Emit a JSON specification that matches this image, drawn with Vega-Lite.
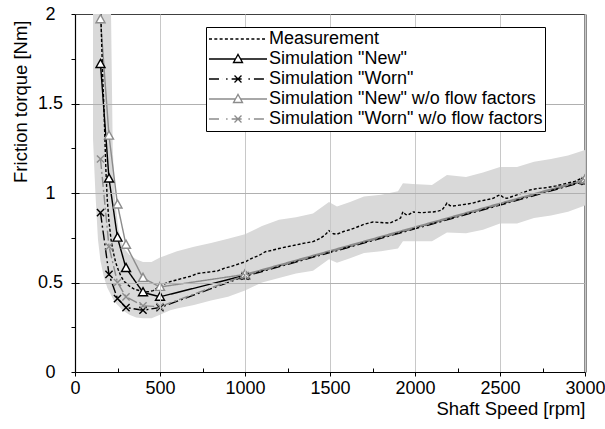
{
  "$schema": "https://vega.github.io/schema/vega-lite/v6.json",
  "width": 510,
  "height": 358,
  "autosize": "none",
  "padding": {"left": 75, "top": 14, "right": 20, "bottom": 57},
  "background": "white",
  "config": {
    "font": "Liberation Sans",
    "view": {"stroke": null},
    "axis": {"labelFont": "Liberation Sans", "titleFont": "Liberation Sans", "labelFontSize": 18, "titleFontSize": 18.5, "labelColor": "black", "titleColor": "black", "titleFontWeight": "normal", "domainColor": "black", "tickColor": "black", "labelFlush": false, "labelOverlap": false}
  },
  "datasets": {
    "band": [
      {"rpm": 106, "lo": 1.30, "hi": 2.0},
      {"rpm": 120, "lo": 1.00, "hi": 2.0},
      {"rpm": 135, "lo": 0.74, "hi": 2.0},
      {"rpm": 150, "lo": 0.62, "hi": 2.0},
      {"rpm": 170, "lo": 0.53, "hi": 2.0},
      {"rpm": 190, "lo": 0.47, "hi": 2.0},
      {"rpm": 212, "lo": 0.43, "hi": 2.0},
      {"rpm": 222, "lo": 0.41, "hi": 1.25},
      {"rpm": 235, "lo": 0.39, "hi": 0.97},
      {"rpm": 255, "lo": 0.37, "hi": 0.80},
      {"rpm": 280, "lo": 0.345, "hi": 0.70},
      {"rpm": 320, "lo": 0.32, "hi": 0.655},
      {"rpm": 360, "lo": 0.305, "hi": 0.63},
      {"rpm": 400, "lo": 0.30, "hi": 0.615},
      {"rpm": 450, "lo": 0.30, "hi": 0.615},
      {"rpm": 500, "lo": 0.32, "hi": 0.64},
      {"rpm": 560, "lo": 0.345, "hi": 0.66},
      {"rpm": 600, "lo": 0.355, "hi": 0.675},
      {"rpm": 700, "lo": 0.375, "hi": 0.70},
      {"rpm": 800, "lo": 0.40, "hi": 0.72},
      {"rpm": 900, "lo": 0.42, "hi": 0.745},
      {"rpm": 1000, "lo": 0.455, "hi": 0.77},
      {"rpm": 1100, "lo": 0.50, "hi": 0.815},
      {"rpm": 1200, "lo": 0.525, "hi": 0.85},
      {"rpm": 1300, "lo": 0.55, "hi": 0.865},
      {"rpm": 1400, "lo": 0.565, "hi": 0.885},
      {"rpm": 1494, "lo": 0.63, "hi": 0.95},
      {"rpm": 1541, "lo": 0.61, "hi": 0.925},
      {"rpm": 1618, "lo": 0.635, "hi": 0.95},
      {"rpm": 1700, "lo": 0.665, "hi": 0.98},
      {"rpm": 1800, "lo": 0.675, "hi": 0.99},
      {"rpm": 1900, "lo": 0.69, "hi": 1.01},
      {"rpm": 1929, "lo": 0.73, "hi": 1.055},
      {"rpm": 1988, "lo": 0.73, "hi": 1.05},
      {"rpm": 2100, "lo": 0.73, "hi": 1.045},
      {"rpm": 2188, "lo": 0.78, "hi": 1.10},
      {"rpm": 2300, "lo": 0.775, "hi": 1.09},
      {"rpm": 2400, "lo": 0.795, "hi": 1.115},
      {"rpm": 2500, "lo": 0.83, "hi": 1.145},
      {"rpm": 2600, "lo": 0.83, "hi": 1.145},
      {"rpm": 2700, "lo": 0.86, "hi": 1.175},
      {"rpm": 2800, "lo": 0.875, "hi": 1.19},
      {"rpm": 2900, "lo": 0.895, "hi": 1.21},
      {"rpm": 3000, "lo": 0.93, "hi": 1.24}
    ],
    "lines": [
      {"series": "Simulation \"New\"", "rpm": 150, "torque": 1.72},
      {"series": "Simulation \"New\"", "rpm": 200, "torque": 1.08},
      {"series": "Simulation \"New\"", "rpm": 250, "torque": 0.75},
      {"series": "Simulation \"New\"", "rpm": 300, "torque": 0.58},
      {"series": "Simulation \"New\"", "rpm": 400, "torque": 0.445},
      {"series": "Simulation \"New\"", "rpm": 500, "torque": 0.42},
      {"series": "Simulation \"New\"", "rpm": 1000, "torque": 0.54},
      {"series": "Simulation \"New\"", "rpm": 3000, "torque": 1.07},
      {"series": "Simulation \"Worn\"", "rpm": 150, "torque": 0.89},
      {"series": "Simulation \"Worn\"", "rpm": 200, "torque": 0.545},
      {"series": "Simulation \"Worn\"", "rpm": 250, "torque": 0.41},
      {"series": "Simulation \"Worn\"", "rpm": 300, "torque": 0.36},
      {"series": "Simulation \"Worn\"", "rpm": 400, "torque": 0.345},
      {"series": "Simulation \"Worn\"", "rpm": 500, "torque": 0.36},
      {"series": "Simulation \"Worn\"", "rpm": 1000, "torque": 0.535},
      {"series": "Simulation \"Worn\"", "rpm": 3000, "torque": 1.065},
      {"series": "Simulation \"New\" w/o flow factors", "rpm": 150, "torque": 1.97},
      {"series": "Simulation \"New\" w/o flow factors", "rpm": 200, "torque": 1.32},
      {"series": "Simulation \"New\" w/o flow factors", "rpm": 250, "torque": 0.935},
      {"series": "Simulation \"New\" w/o flow factors", "rpm": 300, "torque": 0.71},
      {"series": "Simulation \"New\" w/o flow factors", "rpm": 400, "torque": 0.525},
      {"series": "Simulation \"New\" w/o flow factors", "rpm": 500, "torque": 0.475},
      {"series": "Simulation \"New\" w/o flow factors", "rpm": 1000, "torque": 0.545},
      {"series": "Simulation \"New\" w/o flow factors", "rpm": 3000, "torque": 1.075},
      {"series": "Simulation \"Worn\" w/o flow factors", "rpm": 150, "torque": 1.19},
      {"series": "Simulation \"Worn\" w/o flow factors", "rpm": 200, "torque": 0.70},
      {"series": "Simulation \"Worn\" w/o flow factors", "rpm": 250, "torque": 0.50},
      {"series": "Simulation \"Worn\" w/o flow factors", "rpm": 300, "torque": 0.42},
      {"series": "Simulation \"Worn\" w/o flow factors", "rpm": 400, "torque": 0.37},
      {"series": "Simulation \"Worn\" w/o flow factors", "rpm": 500, "torque": 0.365},
      {"series": "Simulation \"Worn\" w/o flow factors", "rpm": 1000, "torque": 0.54},
      {"series": "Simulation \"Worn\" w/o flow factors", "rpm": 3000, "torque": 1.07},
      {"series": "Measurement", "rpm": 152, "torque": 2.0},
      {"series": "Measurement", "rpm": 158, "torque": 1.8},
      {"series": "Measurement", "rpm": 164, "torque": 1.62},
      {"series": "Measurement", "rpm": 170, "torque": 1.48},
      {"series": "Measurement", "rpm": 176, "torque": 1.3},
      {"series": "Measurement", "rpm": 182, "torque": 1.12},
      {"series": "Measurement", "rpm": 190, "torque": 0.96},
      {"series": "Measurement", "rpm": 200, "torque": 0.84},
      {"series": "Measurement", "rpm": 212, "torque": 0.74},
      {"series": "Measurement", "rpm": 225, "torque": 0.67},
      {"series": "Measurement", "rpm": 240, "torque": 0.61},
      {"series": "Measurement", "rpm": 255, "torque": 0.57},
      {"series": "Measurement", "rpm": 270, "torque": 0.535},
      {"series": "Measurement", "rpm": 290, "torque": 0.505},
      {"series": "Measurement", "rpm": 320, "torque": 0.48},
      {"series": "Measurement", "rpm": 350, "torque": 0.462},
      {"series": "Measurement", "rpm": 390, "torque": 0.452},
      {"series": "Measurement", "rpm": 430, "torque": 0.448},
      {"series": "Measurement", "rpm": 460, "torque": 0.455},
      {"series": "Measurement", "rpm": 490, "torque": 0.475},
      {"series": "Measurement", "rpm": 520, "torque": 0.49},
      {"series": "Measurement", "rpm": 560, "torque": 0.505},
      {"series": "Measurement", "rpm": 600, "torque": 0.515},
      {"series": "Measurement", "rpm": 640, "torque": 0.525},
      {"series": "Measurement", "rpm": 680, "torque": 0.535},
      {"series": "Measurement", "rpm": 720, "torque": 0.55},
      {"series": "Measurement", "rpm": 760, "torque": 0.555},
      {"series": "Measurement", "rpm": 800, "torque": 0.56},
      {"series": "Measurement", "rpm": 840, "torque": 0.565},
      {"series": "Measurement", "rpm": 880, "torque": 0.58},
      {"series": "Measurement", "rpm": 920, "torque": 0.59},
      {"series": "Measurement", "rpm": 960, "torque": 0.603},
      {"series": "Measurement", "rpm": 1000, "torque": 0.615},
      {"series": "Measurement", "rpm": 1040, "torque": 0.635},
      {"series": "Measurement", "rpm": 1080, "torque": 0.65},
      {"series": "Measurement", "rpm": 1120, "torque": 0.672},
      {"series": "Measurement", "rpm": 1160, "torque": 0.68},
      {"series": "Measurement", "rpm": 1200, "torque": 0.69},
      {"series": "Measurement", "rpm": 1250, "torque": 0.7},
      {"series": "Measurement", "rpm": 1300, "torque": 0.71},
      {"series": "Measurement", "rpm": 1350, "torque": 0.72},
      {"series": "Measurement", "rpm": 1400, "torque": 0.728},
      {"series": "Measurement", "rpm": 1440, "torque": 0.745},
      {"series": "Measurement", "rpm": 1470, "torque": 0.765},
      {"series": "Measurement", "rpm": 1494, "torque": 0.79},
      {"series": "Measurement", "rpm": 1520, "torque": 0.772},
      {"series": "Measurement", "rpm": 1541, "torque": 0.77},
      {"series": "Measurement", "rpm": 1580, "torque": 0.785},
      {"series": "Measurement", "rpm": 1618, "torque": 0.795},
      {"series": "Measurement", "rpm": 1660, "torque": 0.81},
      {"series": "Measurement", "rpm": 1700, "torque": 0.825},
      {"series": "Measurement", "rpm": 1753, "torque": 0.838},
      {"series": "Measurement", "rpm": 1800, "torque": 0.835},
      {"series": "Measurement", "rpm": 1853, "torque": 0.832},
      {"series": "Measurement", "rpm": 1894, "torque": 0.85},
      {"series": "Measurement", "rpm": 1915, "torque": 0.86},
      {"series": "Measurement", "rpm": 1929, "torque": 0.895},
      {"series": "Measurement", "rpm": 1945, "torque": 0.88},
      {"series": "Measurement", "rpm": 1959, "torque": 0.877},
      {"series": "Measurement", "rpm": 1988, "torque": 0.894},
      {"series": "Measurement", "rpm": 2040, "torque": 0.89},
      {"series": "Measurement", "rpm": 2080, "torque": 0.893},
      {"series": "Measurement", "rpm": 2106, "torque": 0.894},
      {"series": "Measurement", "rpm": 2140, "torque": 0.9},
      {"series": "Measurement", "rpm": 2159, "torque": 0.905},
      {"series": "Measurement", "rpm": 2175, "torque": 0.925},
      {"series": "Measurement", "rpm": 2188, "torque": 0.944},
      {"series": "Measurement", "rpm": 2205, "torque": 0.93},
      {"series": "Measurement", "rpm": 2218, "torque": 0.927},
      {"series": "Measurement", "rpm": 2260, "torque": 0.932},
      {"series": "Measurement", "rpm": 2306, "torque": 0.938},
      {"series": "Measurement", "rpm": 2345, "torque": 0.945},
      {"series": "Measurement", "rpm": 2382, "torque": 0.955},
      {"series": "Measurement", "rpm": 2420, "torque": 0.962},
      {"series": "Measurement", "rpm": 2459, "torque": 0.97},
      {"series": "Measurement", "rpm": 2488, "torque": 0.985},
      {"series": "Measurement", "rpm": 2500, "torque": 0.99},
      {"series": "Measurement", "rpm": 2520, "torque": 0.975},
      {"series": "Measurement", "rpm": 2541, "torque": 0.97},
      {"series": "Measurement", "rpm": 2600, "torque": 0.99},
      {"series": "Measurement", "rpm": 2676, "torque": 1.017},
      {"series": "Measurement", "rpm": 2720, "torque": 1.025},
      {"series": "Measurement", "rpm": 2776, "torque": 1.03},
      {"series": "Measurement", "rpm": 2830, "torque": 1.04},
      {"series": "Measurement", "rpm": 2894, "torque": 1.055},
      {"series": "Measurement", "rpm": 2940, "torque": 1.065},
      {"series": "Measurement", "rpm": 2970, "torque": 1.078},
      {"series": "Measurement", "rpm": 3000, "torque": 1.085}
    ]
  },
  "resolve": {"axis": {"x": "independent", "y": "independent"}},
  "layer": [
    {
      "data": {"name": "band"},
      "mark": {"type": "area", "color": "#d9d9d9", "clip": true},
      "encoding": {
        "x": {"field": "rpm", "type": "quantitative", "scale": {"domain": [0, 3000], "nice": false},
          "axis": {"orient": "bottom", "values": [0, 500, 1000, 1500, 2000, 2500, 3000], "format": "d", "grid": true, "gridColor": "#c8c8c8", "tickSize": 4, "labelPadding": 3, "domainWidth": 1.2, "zindex": 1,
            "title": "Shaft Speed [rpm]", "titleAnchor": "end", "titleAlign": "right", "titleX": 510, "titleY": 27, "titleBaseline": "top"}},
        "y": {"field": "hi", "type": "quantitative", "scale": {"domain": [0, 2], "nice": false},
          "axis": {"orient": "left", "values": [0, 0.25, 0.5, 0.75, 1, 1.25, 1.5, 1.75, 2], "format": "~g", "labelExpr": "datum.value % 0.5 == 0 ? datum.label : ''", "grid": false, "tickSize": 4, "labelAlign": "center", "labelBaseline": "middle", "labelPadding": 21, "domainWidth": 1.2, "zindex": 1,
            "title": "Friction torque [Nm]", "titleAngle": -90, "titleX": -55, "titleY": 6, "titleAlign": "right", "titleBaseline": "middle"}},
        "y2": {"field": "lo"}
      }
    },
    {
      "data": {"name": "lines"},
      "mark": {"type": "line", "strokeWidth": 1.4, "clip": true},
      "encoding": {
        "x": {"field": "rpm", "type": "quantitative",
          "axis": {"orient": "bottom", "values": [250, 500, 750, 1000, 1250, 1500, 1750, 2000, 2250, 2500, 2750], "tickSize": -4, "labels": false, "domain": false, "grid": false, "title": null}},
        "y": {"field": "torque", "type": "quantitative",
          "axis": {"orient": "left", "values": [0.5, 1, 1.5], "grid": true, "gridColor": "#b0b0b0", "tickSize": -4, "labels": false, "domain": false, "title": null, "zindex": 1}},
        "color": {"field": "series", "type": "nominal",
          "scale": {"domain": ["Measurement", "Simulation \"New\"", "Simulation \"Worn\"", "Simulation \"New\" w/o flow factors", "Simulation \"Worn\" w/o flow factors"], "range": ["black", "black", "black", "#8c8c8c", "#8c8c8c"]},
          "legend": {"orient": "none", "legendX": 131, "legendY": 13, "title": null, "fillColor": "white", "strokeColor": "black", "padding": 2, "cornerRadius": 0, "zindex": 2,
            "symbolType": {"expr": "datum.value === 'Measurement' ? 'M-1,0H-0.886M-0.817,0H-0.703M-0.634,0H-0.52M-0.452,0H-0.338M-0.269,0H-0.155M-0.086,0H0.028M0.097,0H0.211M0.28,0H0.394M0.462,0H0.576M0.645,0H0.759M0.828,0H0.942' : (indexof(datum.value, 'Worn') >= 0 ? 'M-1,0H-0.55M-0.41,0H-0.36M-0.22,0H0.22M0.36,0H0.41M0.55,0H1M-0.12,-0.12L0.12,0.12M-0.12,0.12L0.12,-0.12' : 'M-1,0H-0.09M0.09,0H1M0,-0.16L0.155,0.12H-0.155Z')"},
            "symbolSize": 3364, "symbolStrokeWidth": 1.3, "clipHeight": 20, "rowPadding": 0, "labelFontSize": 18, "labelFont": "Liberation Sans", "labelOffset": 1, "labelLimit": 500, "labelColor": "black"}},
        "strokeDash": {"field": "series", "type": "nominal", "legend": null,
          "scale": {"domain": ["Measurement", "Simulation \"New\"", "Simulation \"Worn\"", "Simulation \"New\" w/o flow factors", "Simulation \"Worn\" w/o flow factors"], "range": [[3, 2], [1, 0], [10, 3, 2, 3], [1, 0], [10, 3, 2, 3]]}}
      }
    },
    {
      "data": {"name": "lines"},
      "transform": [{"filter": "datum.series !== 'Measurement'"}],
      "mark": {"type": "point", "filled": false, "fill": "white", "fillOpacity": 1, "strokeWidth": 1.4, "size": 81, "opacity": 1, "clip": true},
      "encoding": {
        "x": {"field": "rpm", "type": "quantitative",
          "axis": {"orient": "top", "domain": true, "domainColor": "#404040", "ticks": false, "labels": false, "grid": false, "title": null}},
        "y": {"field": "torque", "type": "quantitative",
          "axis": {"orient": "right", "domain": true, "domainColor": "#8c8c8c", "domainWidth": 3, "ticks": false, "labels": false, "grid": false, "title": null}},
        "shape": {"field": "series", "type": "nominal", "legend": null,
          "scale": {"domain": ["Simulation \"New\"", "Simulation \"Worn\"", "Simulation \"New\" w/o flow factors", "Simulation \"Worn\" w/o flow factors"], "range": ["M0,-1.05L1,0.75H-1Z", "M-0.8,-0.8L0.8,0.8M-0.8,0.8L0.8,-0.8", "M0,-1.05L1,0.75H-1Z", "M-0.8,-0.8L0.8,0.8M-0.8,0.8L0.8,-0.8"]}},
        "stroke": {"field": "series", "type": "nominal", "legend": null,
          "scale": {"domain": ["Simulation \"New\"", "Simulation \"Worn\"", "Simulation \"New\" w/o flow factors", "Simulation \"Worn\" w/o flow factors"], "range": ["black", "black", "#8c8c8c", "#8c8c8c"]}}
      }
    }
  ]
}
